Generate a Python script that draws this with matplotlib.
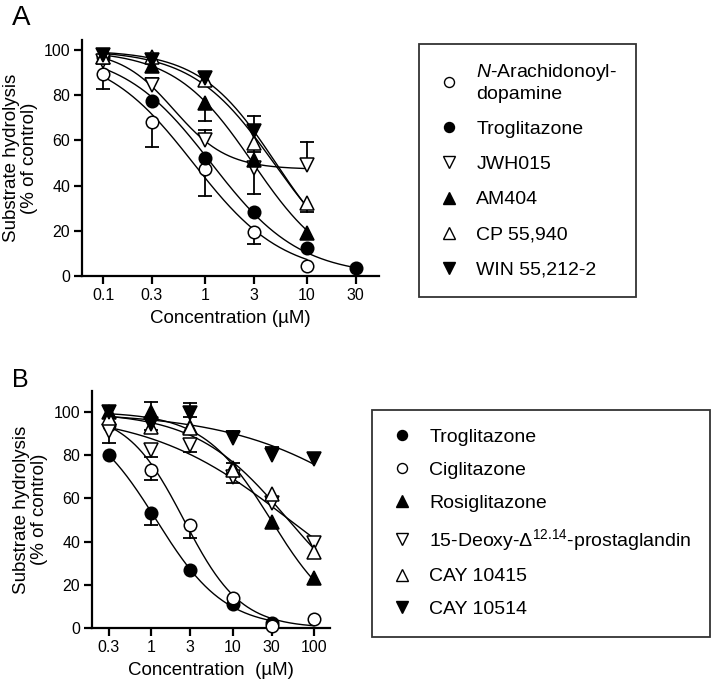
import numpy as np
import matplotlib
matplotlib.use("Agg")
import matplotlib.pyplot as plt
from matplotlib.lines import Line2D

plt.rcParams['font.family'] = ['Liberation Sans', 'DejaVu Sans']
plt.rcParams['mathtext.fontset'] = 'custom'
plt.rcParams['mathtext.rm'] = 'Liberation Sans'
plt.rcParams['mathtext.it'] = 'Liberation Sans:italic'

# ---------------- Panel A data ----------------
a_names = [r"$\it{N}$-Arachidonoyl-" + "\n" + "dopamine", "Troglitazone", "JWH015",
           "AM404", "CP 55,940", "WIN 55,212-2"]
a_markers = ['o', 'o', 'v', '^', '^', 'v']
a_filled = [False, True, False, True, False, True]
a_x = [[0.1, 0.3, 1, 3, 10],
       [0.1, 0.3, 1, 3, 10, 30],
       [0.1, 0.3, 1, 3, 10],
       [0.1, 0.3, 1, 3, 10],
       [0.1, 0.3, 1, 3, 10],
       [0.1, 0.3, 1, 3]]
a_y = [[89.5, 68.0, 47.3, 19.5, 4.6],
       [97.0, 77.5, 52.2, 28.3, 12.3, 3.6],
       [95.0, 84.5, 60.0, 47.8, 49.2],
       [97.0, 92.8, 76.4, 51.3, 18.9],
       [97.0, 97.0, 87.0, 59.0, 32.5],
       [98.0, 95.5, 87.5, 64.0]]
a_err_lo = [[6.5, 11.0, 12.0, 5.3, 0],
            [0, 0, 0, 0, 0, 0],
            [0, 0, 0, 11.5, 0],
            [0, 0, 7.7, 0, 2.7],
            [0, 0, 0, 4.0, 4.0],
            [0, 0, 0, 0]]
a_err_hi = [[0, 0, 0, 0, 0],
            [0, 0, 0, 0, 0, 0],
            [0, 3.2, 4.6, 0, 10.3],
            [0, 0, 0, 0, 0],
            [0, 0, 0, 0, 0],
            [0, 0, 0, 7.0]]
a_free_bottom = [False, False, True, False, False, False]
a_curve_end = [10, 30, 10, 10, 10, 10]
a_xticks = [0.1, 0.3, 1, 3, 10, 30]
a_xticklabels = ["0.1", "0.3", "1", "3", "10", "30"]

# ---------------- Panel B data ----------------
b_names = ["Troglitazone", "Ciglitazone", "Rosiglitazone",
           r"15-Deoxy-Δ$^{12.14}$-prostaglandin", "CAY 10415", "CAY 10514"]
b_markers = ['o', 'o', '^', 'v', '^', 'v']
b_filled = [True, False, True, False, False, True]
b_x = [[0.3, 1, 3, 10, 30],
       [0.3, 1, 3, 10, 30, 100],
       [0.3, 1, 3, 10, 30, 100],
       [0.3, 1, 3, 10, 30, 100],
       [0.3, 1, 3, 10, 30, 100],
       [0.3, 1, 3, 10, 30, 100]]
b_y = [[80.2, 53.1, 26.8, 11.0, 2.3],
       [94.0, 73.0, 47.7, 14.0, 0.8, 4.0],
       [99.8, 100.2, 93.0, 74.0, 49.0, 23.0],
       [91.0, 82.4, 84.7, 70.0, 58.0, 39.2],
       [97.0, 93.0, 92.6, 73.1, 62.0, 35.3],
       [99.8, 94.5, 99.5, 88.0, 80.3, 78.2]]
b_err_lo = [[0, 5.4, 0, 0, 0],
            [0, 4.6, 6.2, 0, 0, 0],
            [0, 0, 0, 0, 0, 0],
            [5.4, 3.1, 3.1, 3.0, 0, 0],
            [0, 0, 0, 0, 0, 0],
            [0, 3.0, 0, 0, 0, 0]]
b_err_hi = [[0, 0, 0, 0, 0],
            [0, 0, 0, 0, 0, 0],
            [0, 4.6, 0, 0, 0, 0],
            [0, 0, 0, 0, 0, 0],
            [0, 0, 5.0, 3.3, 0, 0],
            [0, 0, 4.5, 3.0, 3.6, 3.0]]
b_free_bottom = [False, False, False, False, False, False]
b_curve_end = [30, 100, 100, 100, 100, 100]
b_xticks = [0.3, 1, 3, 10, 30, 100]
b_xticklabels = ["0.3", "1", "3", "10", "30", "100"]


def fit_logistic(x, y, free_bottom, top=100.0):
    lx = np.log10(np.asarray(x, float))
    yy = np.asarray(y, float)
    c = np.arange(-2.0, 4.0, 0.005)[:, None, None]
    h = np.arange(0.2, 3.0, 0.01)[None, :, None]
    f = 1.0 / (1.0 + 10 ** ((lx[None, None, :] - c) * h))
    if free_bottom:
        g = 1.0 - f
        b = np.sum((yy - top * f) * g, axis=-1, keepdims=True) / np.sum(g * g, axis=-1, keepdims=True)
    else:
        b = np.zeros(f.shape[:2] + (1,))
    pred = b + (top - b) * f
    sse = np.sum((pred - yy) ** 2, axis=-1)
    i, j = np.unravel_index(np.argmin(sse), sse.shape)
    return c[i, 0, 0], h[0, j, 0], b[i, j, 0], top


def draw_panel(ax, names, markers, filled, xs, ys, elo, ehi, free, cend):
    handles = []
    for k in range(len(names)):
        x = np.asarray(xs[k], float)
        y = np.asarray(ys[k], float)
        lc, hh, bot, top = fit_logistic(x, y, free[k])
        xc = np.logspace(np.log10(x.min()), np.log10(cend[k]), 300)
        yc = bot + (top - bot) / (1 + 10 ** ((np.log10(xc) - lc) * hh))
        ax.plot(xc, yc, color='black', lw=1.0, zorder=2, clip_on=False)
        lo = np.asarray(elo[k], float)
        hi = np.asarray(ehi[k], float)
        for xi, yi, l, u in zip(x, y, lo, hi):
            if l > 0:
                ax.plot([xi, xi], [yi, yi - l], color='black', lw=1.3, zorder=2, clip_on=False)
                ax.plot([xi], [yi - l], marker='_', ms=9.5, mew=1.3, color='black', zorder=2, clip_on=False)
            if u > 0:
                ax.plot([xi, xi], [yi, yi + u], color='black', lw=1.3, zorder=2, clip_on=False)
                ax.plot([xi], [yi + u], marker='_', ms=9.5, mew=1.3, color='black', zorder=2, clip_on=False)
        ms = 9.0 if markers[k] == 'o' else 10.5
        fc = 'black' if filled[k] else 'white'
        ax.plot(x, y, ls='none', marker=markers[k], ms=ms, mfc=fc, mec='black',
                mew=1.1, zorder=3, clip_on=False)
        handles.append(Line2D([], [], ls='none', marker=markers[k], ms=ms, mfc=fc,
                              mec='black', mew=1.0))
    return handles


def style_axes(ax, xlim, ylim, xticks, xticklabels, xlabel):
    ax.set_xscale('log')
    ax.set_xlim(*xlim)
    ax.set_ylim(*ylim)
    ax.set_xticks(xticks)
    ax.set_xticklabels(xticklabels)
    ax.xaxis.set_minor_locator(matplotlib.ticker.NullLocator())
    ax.set_yticks([0, 20, 40, 60, 80, 100])
    for s in ['top', 'right']:
        ax.spines[s].set_visible(False)
    for s in ['left', 'bottom']:
        ax.spines[s].set_linewidth(1.6)
    ax.tick_params(axis='both', which='major', direction='out', length=5.5, width=1.6,
                   labelsize=11.5, pad=3)
    ax.set_xlabel(xlabel, fontsize=13.5, labelpad=5)
    ax.set_ylabel("Substrate hydrolysis\n(% of control)", fontsize=13.5, labelpad=4,
                  linespacing=1.1)


fig = plt.figure(figsize=(7.15, 6.91), dpi=100)

axA = fig.add_axes([82 / 715, 1 - 276 / 691, 297 / 715, 236 / 691])
hA = draw_panel(axA, a_names, a_markers, a_filled, a_x, a_y, a_err_lo, a_err_hi,
                a_free_bottom, a_curve_end)
style_axes(axA, (0.0622, 50.8), (0, 104.5), a_xticks, a_xticklabels, "Concentration (µM)")

axB = fig.add_axes([92 / 715, 1 - 628 / 691, 238 / 715, 237 / 691])
hB = draw_panel(axB, b_names, b_markers, b_filled, b_x, b_y, b_err_lo, b_err_hi,
                b_free_bottom, b_curve_end)
style_axes(axB, (0.186, 157), (0, 109.7), b_xticks, b_xticklabels, "Concentration  (µM)")

legA = axA.legend(hA, a_names, loc='upper left', bbox_to_anchor=(419 / 715, 1 - 44 / 691),
                  bbox_transform=fig.transFigure, borderaxespad=0, frameon=True,
                  fancybox=False, edgecolor='black', fontsize=14, markerscale=0.8,
                  handlelength=1.2, handletextpad=0.8, borderpad=0.95, labelspacing=0.9)
legA.get_frame().set_linewidth(1.3)

legB = axB.legend(hB, b_names, loc='upper left', bbox_to_anchor=(372 / 715, 1 - 410 / 691),
                  bbox_transform=fig.transFigure, borderaxespad=0, frameon=True,
                  fancybox=False, edgecolor='black', fontsize=14, markerscale=0.8,
                  handlelength=1.2, handletextpad=0.8, borderpad=0.95, labelspacing=0.78)
legB.get_frame().set_linewidth(1.3)

fig.text(12 / 715, 1 - 5 / 691, "A", fontsize=20, va='top', ha='left')
fig.text(12 / 715, 1 - 368 / 691, "B", fontsize=18, va='top', ha='left')

fig.savefig("out.png", dpi=100)
